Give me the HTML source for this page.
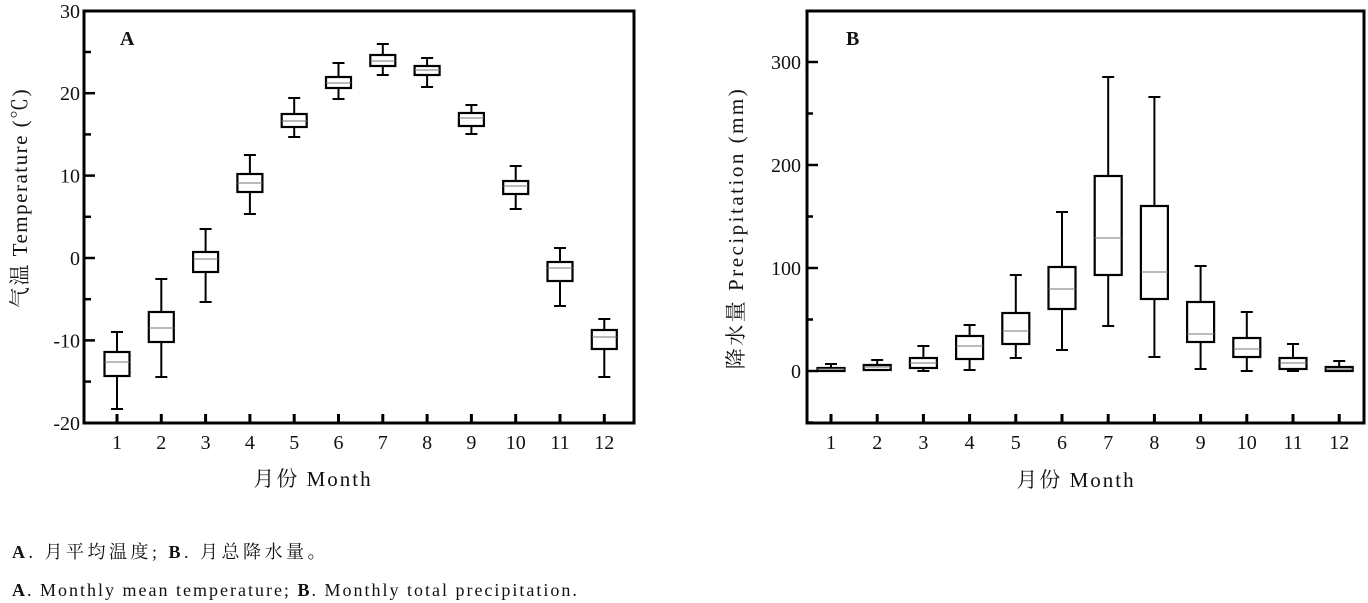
<!DOCTYPE html>
<html><head><meta charset="utf-8"><style>
body{margin:0;background:#fff;width:1368px;height:603px;overflow:hidden}
svg{display:block}
text{font-family:"Liberation Serif","Noto Serif CJK SC",serif;fill:#111}
</style></head><body>
<svg id="s" width="1368" height="603" xmlns="http://www.w3.org/2000/svg">
<rect x="84" y="11" width="550" height="412" fill="none" stroke="#000" stroke-width="3"/>
<rect x="807" y="11" width="557" height="412" fill="none" stroke="#000" stroke-width="3"/>
<text x="120" y="45" font-size="20" font-weight="bold">A</text>
<text x="846" y="45" font-size="20" font-weight="bold">B</text>
<text transform="translate(27,198) rotate(-90)" text-anchor="middle" font-size="21" letter-spacing="1.5">气温 Temperature (℃)</text>
<text transform="translate(743,228) rotate(-90)" text-anchor="middle" font-size="21" letter-spacing="2.5">降水量 Precipitation (mm)</text>
<text x="313" y="486" text-anchor="middle" font-size="21" letter-spacing="2">月份 Month</text>
<text x="1076" y="487" text-anchor="middle" font-size="21" letter-spacing="2">月份 Month</text>
<text x="12" y="558" font-size="18" letter-spacing="3.5"><tspan font-weight="bold">A</tspan>. 月平均温度; <tspan font-weight="bold">B</tspan>. 月总降水量。</text>
<text x="12" y="596" font-size="18" letter-spacing="2"><tspan font-weight="bold">A</tspan>. Monthly mean temperature; <tspan font-weight="bold">B</tspan>. Monthly total precipitation.</text>
<g id="g"></g>
</svg>
<script>
var g=document.getElementById('g'),h='';
function L(x1,y1,x2,y2,w,c){h+='<line x1="'+x1+'" y1="'+y1+'" x2="'+x2+'" y2="'+y2+'" stroke="'+(c||'#000')+'" stroke-width="'+w+'"/>';}
function T(x,y,t,a){h+='<text x="'+x+'" y="'+y+'" font-size="20" text-anchor="'+a+'">'+t+'</text>';}
for(var v=-20;v<=30;v+=5){var y=258-v*8.24;L(84,y,v%10?91:95,y,2.5);if(v%10==0)T(80,y+7,v,'end');}
for(var i=1;i<=12;i++){var x=117+(i-1)*44.3;L(x,423,x,414,3);T(x,449,i,'middle');}
for(var v=-50;v<=350;v+=50){var y=371-v*1.03;if(y<12)continue;L(807,y,v%100?813:818,y,2.5);if(v%100==0&&v>=0)T(801,y+7,v,'end');}
for(var i=1;i<=12;i++){var x=831+(i-1)*46.2;L(x,423,x,414,3);T(x,449,i,'middle');}
function box(x,d,hw,cw){var[hi,q3,md,q1,lo]=d;L(x,hi,x,q3,2);L(x,q1,x,lo,2);L(x-cw,hi,x+cw,hi,2);L(x-cw,lo,x+cw,lo,2);
h+='<rect x="'+(x-hw)+'" y="'+q3+'" width="'+(2*hw)+'" height="'+Math.max(q1-q3,2)+'" fill="#fff" stroke="#000" stroke-width="2.2"/>';L(x-hw,md,x+hw,md,1,'#777');}
var A=[[332,352,362,376,409],[279,312,328,342,377],[229,252,259,272,302],[155,174,183,192,214],[98,114,121,127,137],[63,77,83,88,99],[44,55,61,66,75],[58,66,70,75,87],[105,113,118,126,134],[166,181,186,194,209],[248,262,268,281,306],[319,330,337,349,377]];
A.forEach(function(d,i){box(117+i*44.3,d,12.5,6);});
var B=[[364,368,369,371,371],[360,365,367,370,370],[346,358,363,368,371],[325,336,346,359,370],[275,313,331,344,358],[212,267,289,309,350],[77,176,238,275,326],[97,206,272,299,357],[266,302,334,342,369],[312,338,349,357,371],[344,358,363,369,371],[361,367,369,371,371]];
B.forEach(function(d,i){box(831+i*46.2,d,13.5,6);});
g.innerHTML=h;
</script>
</body></html>
